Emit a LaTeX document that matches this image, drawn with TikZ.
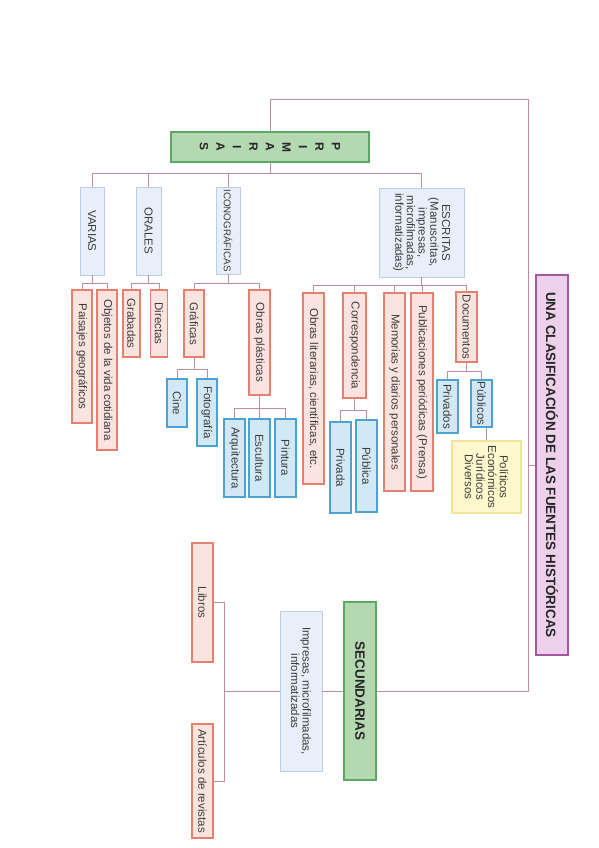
\documentclass[tikz,border=0pt]{standalone}
\usepackage{fontspec}
\setmainfont{Liberation Sans}
\usepackage{tikz}
\usepackage{xcolor}
\definecolor{TextGray}{HTML}{3C3C3C}
\definecolor{LinkMauve}{HTML}{C48A9F}
\definecolor{TitleLine}{HTML}{A5579F}
\definecolor{TitleFill}{HTML}{EDD0EA}
\definecolor{HeadLine}{HTML}{5DA765}
\definecolor{HeadFill}{HTML}{B4D8B0}
\definecolor{GroupLine}{HTML}{BCCDEA}
\definecolor{GroupFill}{HTML}{E8EFFA}
\definecolor{WorkLine}{HTML}{E5806F}
\definecolor{WorkFill}{HTML}{FBE4DF}
\definecolor{KindLine}{HTML}{4AA3D0}
\definecolor{KindFill}{HTML}{D2E9F5}
\definecolor{NoteLine}{HTML}{F2E39A}
\definecolor{NoteFill}{HTML}{FFF8CC}

\begin{document}
\begin{tikzpicture}[x=1pt,y=1pt,
  caja/.style={draw,rectangle,inner sep=1pt,align=center,text=TextGray,
               font=\fontsize{11.5}{11.7}\selectfont,line width=1.1pt},
  sz/.style 2 args={minimum width=#1pt,minimum height=#2pt},
  cartel/.style={caja,draw=TitleLine,fill=TitleFill,text=black!85,
                 font=\bfseries\fontsize{13.5}{15}\selectfont},
  cabeza/.style={caja,draw=HeadLine,fill=HeadFill,text=black!85,
                 font=\bfseries\fontsize{13.5}{15}\selectfont},
  grupo/.style={caja,draw=GroupLine,fill=GroupFill,line width=0.8pt},
  obra/.style={caja,draw=WorkLine,fill=WorkFill},
  tipo/.style={caja,draw=KindLine,fill=KindFill},
  nota/.style={caja,draw=NoteLine,fill=NoteFill},
  link/.style={draw=LinkMauve,line width=0.8pt},
]
\fill[white] (0,0) rectangle (599,-848);
\useasboundingbox (0,0) rectangle (599,-848);
\begin{scope}[rotate=-90,transform shape]
\node[cartel,sz={380}{32}] (cartel) at (465,552) {UNA CLASIFICACIÓN DE LAS FUENTES HISTÓRICAS};
\node[cabeza,sz={30}{198},font=\bfseries\fontsize{12}{16.5}\selectfont] (prim) at (147,270) {P\\R\\I\\M\\A\\R\\I\\A\\S};
\node[cabeza,sz={178}{32}] (secu) at (691,360) {SECUNDARIAS};

\node[grupo,sz={88}{24}] (varias) at (231,92) {VARIAS};
\node[grupo,sz={88}{25}] (orales) at (231,148.5) {ORALES};
\node[grupo,sz={87}{24},font=\fontsize{9.8}{11}\selectfont] (icono) at (230.5,228) {ICONOGRÁFICAS};
\node[grupo,sz={89}{85}] (escritas) at (232.5,421.5) {ESCRITAS\\(Manuscritas,\\impresas,\\microfilmadas,\\informatizadas)};

\node[obra,sz={133}{20}] (paisajes) at (356.5,82) {Paisajes geográficos};
\node[obra,sz={160}{20}] (objetos) at (370,107) {Objetos de la vida cotidiana};
\node[obra,sz={67}{17}] (grabadas) at (323.5,131.5) {Grabadas};
\node[obra,sz={67}{17}] (directas) at (323.5,159) {Directas};
\node[obra,sz={67}{20}] (graficas) at (323.5,194) {Gráficas};
\node[obra,sz={105}{21}] (plasticas) at (342.5,259.5) {Obras plásticas};
\node[obra,sz={191}{21}] (literarias) at (388.5,313.5) {Obras literarias, científicas, etc.};
\node[obra,sz={105}{23}] (corresp) at (345.5,354.5) {Correspondencia};
\node[obra,sz={198}{21}] (memorias) at (392,394.5) {Memorias y diarios personales};
\node[obra,sz={198}{22}] (prensa) at (392,422) {Publicaciones periódicas (Prensa)};
\node[obra,sz={70}{21}] (documentos) at (327,466.5) {Documentos};

\node[tipo,sz={48}{20}] (cine) at (403,177) {Cine};
\node[tipo,sz={67}{20}] (foto) at (412.5,207) {Fotografía};
\node[tipo,sz={78}{21}] (arqui) at (458,234.5) {Arquitectura};
\node[tipo,sz={78}{21}] (escul) at (458,259.5) {Escultura};
\node[tipo,sz={78}{21}] (pintura) at (458,285.5) {Pintura};
\node[tipo,sz={91}{21}] (privada) at (467.5,340.5) {Privada};
\node[tipo,sz={92}{21}] (publica) at (466,366.5) {Pública};
\node[tipo,sz={53}{21}] (privados) at (406.5,447.5) {Privados};
\node[tipo,sz={47}{21}] (publicos) at (403.5,481.5) {Públicos};
\node[nota,sz={72}{69}] (politicos) at (477,486.5) {Políticos\\Económicos\\Jurídicos\\Diversos};

\node[grupo,sz={160}{42}] (impresas) at (691,301) {Impresas, microfilmadas,\\informatizadas};
\node[obra,sz={119}{21}] (libros) at (602.5,202.5) {Libros};
\node[obra,sz={114}{21}] (articulos) at (781,202.5) {Artículos de revistas};

\coordinate (esqsup) at (99,528);
\coordinate (esqinf) at (691,528);
\draw[link] (cartel.south) -- (cartel.south |- esqsup);
\draw[link] (esqsup) -- (esqinf) -- (secu.north);
\draw[link] (esqsup) |- (prim.west);

\draw[link] (prim.east) -- ++(11,0) |- (varias.west);
\draw[link] (prim.east) -- ++(11,0) |- (orales.west);
\draw[link] (prim.east) -- ++(11,0) |- (icono.west);
\draw[link] (prim.east) -- ++(11,0) |- (escritas.west);

\draw[link] (varias.east) -- ++(8,0) |- (paisajes.west);
\draw[link] (varias.east) -- ++(8,0) |- (objetos.west);
\draw[link] (orales.east) -- ++(8,0) |- (grabadas.west);
\draw[link] (orales.east) -- ++(8,0) |- (directas.west);
\draw[link] (icono.east) -- ++(9,0) |- (graficas.west);
\draw[link] (icono.east) -- ++(9,0) |- (plasticas.west);
\draw[link] (graficas.east) -- ++(12,0) |- (cine.west);
\draw[link] (graficas.east) -- ++(12,0) |- (foto.west);
\draw[link] (plasticas.east) -- ++(13,0) |- (arqui.west);
\draw[link] (plasticas.east) -- ++(13,0) |- (escul.west);
\draw[link] (plasticas.east) -- ++(13,0) |- (pintura.west);

\draw[link] (escritas.east) -- ++(8,0) |- (literarias.west);
\draw[link] (escritas.east) -- ++(8,0) |- (corresp.west);
\draw[link] (escritas.east) -- ++(8,0) |- (memorias.west);
\draw[link] (escritas.east) -- ++(8,0) |- (prensa.west);
\draw[link] (escritas.east) -- ++(8,0) |- (documentos.west);
\draw[link] (corresp.east) -- ++(12,0) |- (privada.west);
\draw[link] (corresp.east) -- ++(12,0) |- (publica.west);
\draw[link] (documentos.east) -- ++(9,0) |- (privados.west);
\draw[link] (documentos.east) -- ++(9,0) |- (publicos.west);
\draw[link] (politicos.west -| publicos.east) -- (politicos.west);

\draw[link] (secu.south) -- (impresas.north);
\draw[link] (impresas.south) -- ++(0,-55) -| (libros.north);
\draw[link] (impresas.south) -- ++(0,-55) -| (articulos.north);
\end{scope}
\end{tikzpicture}
\end{document}
